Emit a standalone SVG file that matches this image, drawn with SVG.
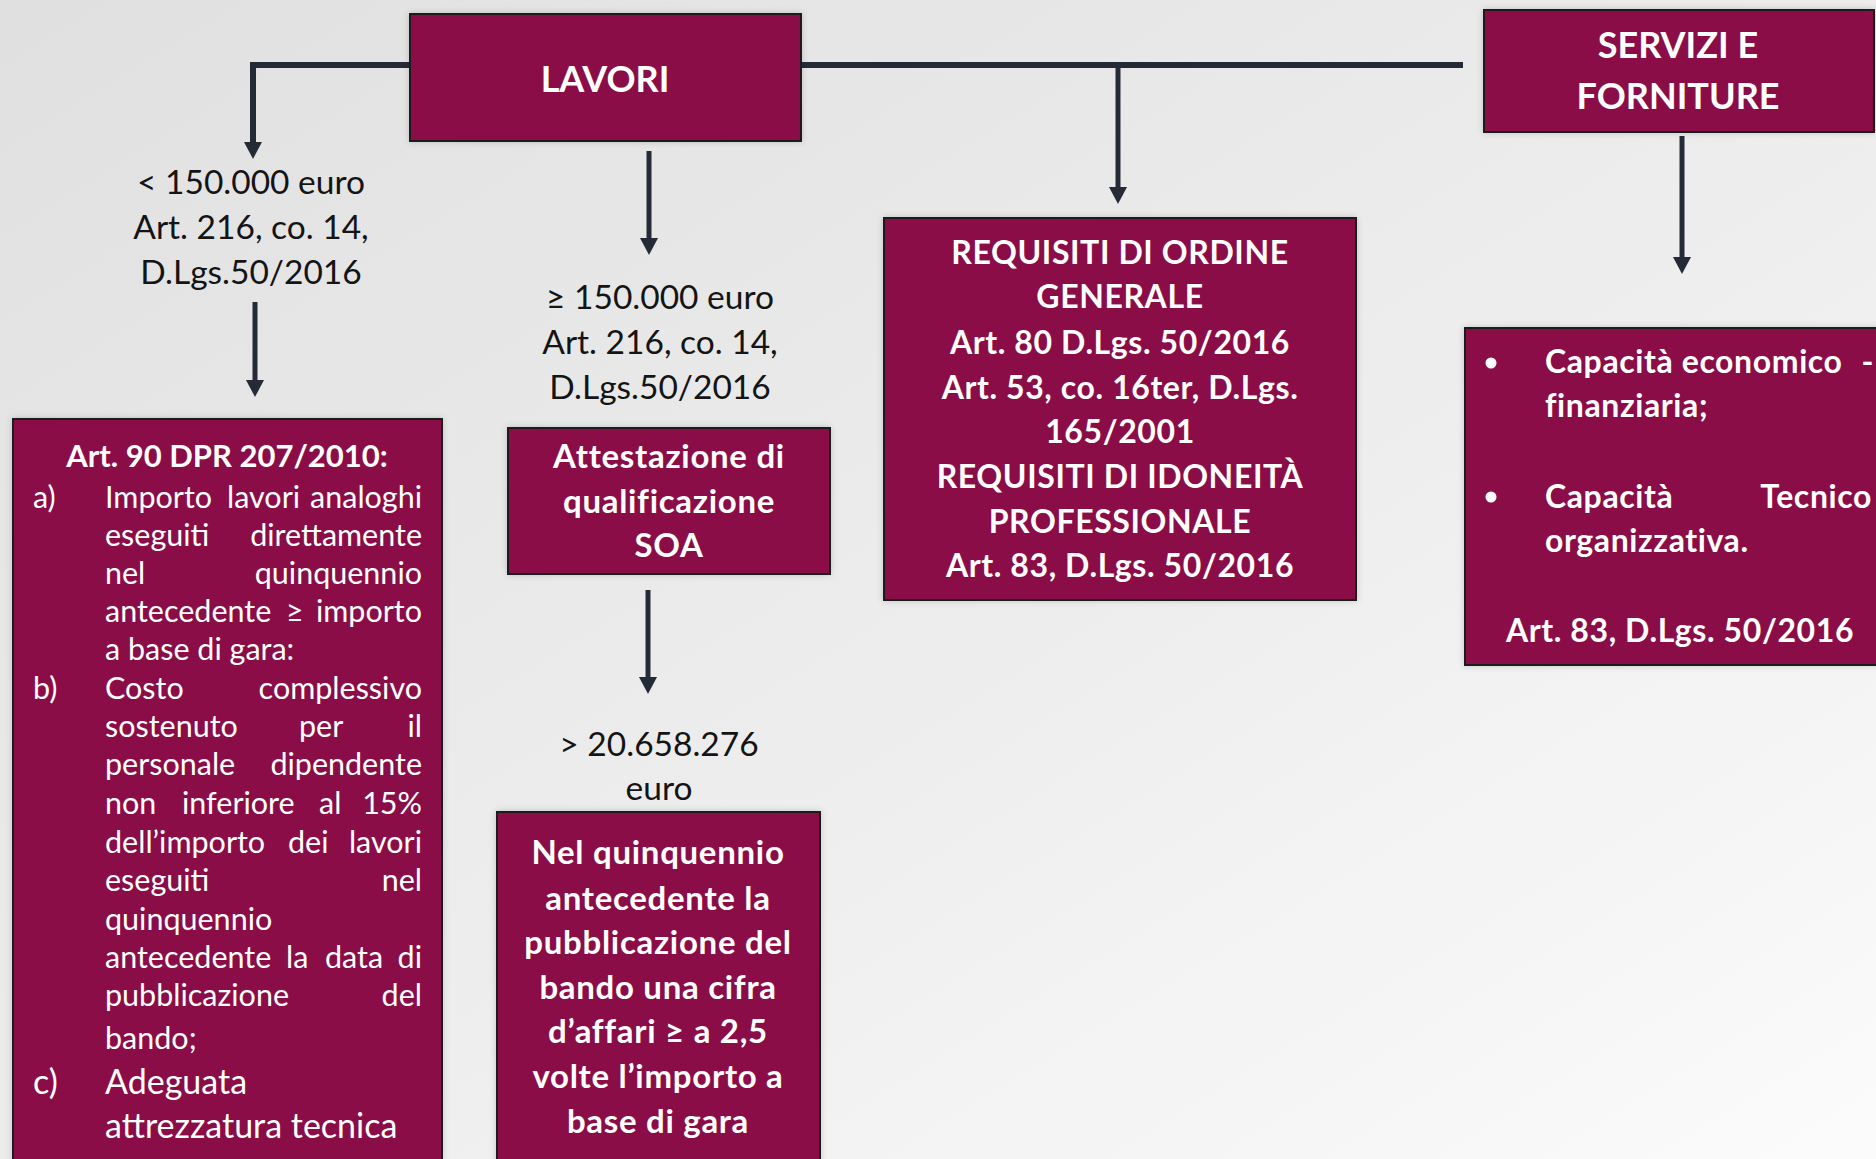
<svg xmlns="http://www.w3.org/2000/svg" width="1876" height="1159" viewBox="0 0 1876 1159">
<defs>
  <linearGradient id="bg" x1="0" y1="0" x2="1" y2="1">
    <stop offset="0" stop-color="#e0e0e0"/>
    <stop offset="0.5" stop-color="#ececec"/>
    <stop offset="1" stop-color="#fbfbfb"/>
  </linearGradient>
  <marker id="arrow" viewBox="0 0 18 18" markerWidth="18" markerHeight="18" refX="0" refY="9" orient="auto" markerUnits="userSpaceOnUse">
    <path d="M0,0 L17,9 L0,18 z" fill="#252b36"/>
  </marker>
  <filter id="sh" x="-5%" y="-5%" width="110%" height="110%">
    <feDropShadow dx="0" dy="0" stdDeviation="3" flood-color="#000" flood-opacity="0.18"/>
  </filter>
</defs>
<style>
  .box { fill: #8a0a46; stroke: #1e1e1e; stroke-width: 2; filter: url(#sh); }
  .conn { fill: none; stroke: #252b36; stroke-width: 5; }
  .top { stroke-width: 6; }
  .lbl { font-family: Lato, "Open Sans", "Liberation Sans", sans-serif; font-size: 33.5px; fill: #141414; text-anchor: middle; }
  .wb { font-family: Lato, "Open Sans", "Liberation Sans", sans-serif; font-weight: bold; fill: #ffffff; }
  .w { font-family: Lato, "Open Sans", "Liberation Sans", sans-serif; fill: #ffffff; font-size: 30.5px; }
  .c { text-anchor: middle; }
  .e { text-anchor: end; }
  .t31 { font-size: 31px; }
  .b31 { font-size: 32px; letter-spacing: 0.6px; }
  .b32 { font-size: 33px; letter-spacing: 0.7px; }
  .b36 { font-size: 36px; }
  .big { font-size: 34px; }
</style>
<rect x="0" y="0" width="1876" height="1159" fill="url(#bg)"/>

<g id="connectors">
  <path class="conn top" d="M410,65 H253 V142" marker-end="url(#arrow)"/>
  <path class="conn top" d="M801,65 H1463"/>
  <path class="conn" d="M1118,65 V187" marker-end="url(#arrow)"/>
  <path class="conn" d="M255,302 V380" marker-end="url(#arrow)"/>
  <path class="conn" d="M649,151 V238" marker-end="url(#arrow)"/>
  <path class="conn" d="M648,590 V677" marker-end="url(#arrow)"/>
  <path class="conn" d="M1682,136 V257" marker-end="url(#arrow)"/>
</g>

<g id="lavori">
  <rect class="box" x="410" y="14" width="391" height="127"/>
  <text class="wb b36 c" x="605" y="92">LAVORI</text>
</g>

<g id="servizi">
  <rect class="box" x="1484" y="10" width="390" height="122"/>
  <text class="wb b36 c" x="1678" y="58">SERVIZI E</text>
  <text class="wb b36 c" x="1678" y="109">FORNITURE</text>
</g>

<g id="label-lt150">
  <text class="lbl" x="251" y="194">&lt; 150.000 euro</text>
  <text class="lbl" x="251" y="239">Art. 216, co. 14,</text>
  <text class="lbl" x="251" y="284">D.Lgs.50/2016</text>
</g>

<g id="label-ge150">
  <text class="lbl" x="660" y="309">≥ 150.000 euro</text>
  <text class="lbl" x="660" y="354">Art. 216, co. 14,</text>
  <text class="lbl" x="660" y="399">D.Lgs.50/2016</text>
</g>

<g id="label-gt20m">
  <text class="lbl" x="659" y="756">&gt; 20.658.276</text>
  <text class="lbl" x="659" y="800">euro</text>
</g>

<g id="art90">
  <rect class="box" x="13" y="419" width="429" height="760"/>
  <text class="wb t31 c" x="227" y="467">Art. 90 DPR 207/2010:</text>
  <text class="w" x="33" y="508">a)</text>
  <text class="w" x="105" y="508">Importo</text>
  <text class="w" x="227" y="508">lavori</text>
  <text class="w e" x="422" y="508">analoghi</text>
  <text class="w" x="105" y="546">eseguiti</text>
  <text class="w e" x="422" y="546">direttamente</text>
  <text class="w" x="105" y="584">nel</text>
  <text class="w e" x="422" y="584">quinquennio</text>
  <text class="w" x="105" y="622">antecedente</text>
  <text class="w" x="286" y="622">≥</text>
  <text class="w e" x="422" y="622">importo</text>
  <text class="w" x="105" y="660">a base di gara:</text>
  <text class="w" x="33" y="699">b)</text>
  <text class="w" x="105" y="699">Costo</text>
  <text class="w e" x="422" y="699">complessivo</text>
  <text class="w" x="105" y="737">sostenuto</text>
  <text class="w" x="299" y="737">per</text>
  <text class="w e" x="422" y="737">il</text>
  <text class="w" x="105" y="775">personale</text>
  <text class="w e" x="422" y="775">dipendente</text>
  <text class="w" x="105" y="814">non</text>
  <text class="w" x="182" y="814">inferiore</text>
  <text class="w" x="319" y="814">al</text>
  <text class="w e" x="422" y="814">15%</text>
  <text class="w" x="105" y="853">dell’importo</text>
  <text class="w" x="288" y="853">dei</text>
  <text class="w e" x="422" y="853">lavori</text>
  <text class="w" x="105" y="891">eseguiti</text>
  <text class="w e" x="422" y="891">nel</text>
  <text class="w" x="105" y="930">quinquennio</text>
  <text class="w" x="105" y="968">antecedente</text>
  <text class="w" x="286" y="968">la</text>
  <text class="w" x="325" y="968">data</text>
  <text class="w e" x="422" y="968">di</text>
  <text class="w" x="105" y="1006">pubblicazione</text>
  <text class="w e" x="422" y="1006">del</text>
  <text class="w" x="105" y="1049">bando;</text>
  <text class="w big" x="33" y="1094">c)</text>
  <text class="w big" x="105" y="1094">Adeguata</text>
  <text class="w big" x="105" y="1138">attrezzatura tecnica</text>
</g>

<g id="soa">
  <rect class="box" x="508" y="428" width="322" height="146"/>
  <text class="wb b32 c" x="669" y="468">Attestazione di</text>
  <text class="wb b32 c" x="669" y="513">qualificazione</text>
  <text class="wb b32 c" x="669" y="557">SOA</text>
</g>

<g id="cifra-affari">
  <rect class="box" x="497" y="812" width="323" height="370"/>
  <text class="wb b32 c" x="658" y="864">Nel quinquennio</text>
  <text class="wb b32 c" x="658" y="910">antecedente la</text>
  <text class="wb b32 c" x="658" y="954">pubblicazione del</text>
  <text class="wb b32 c" x="658" y="999">bando una cifra</text>
  <text class="wb b32 c" x="658" y="1043">d’affari ≥ a 2,5</text>
  <text class="wb b32 c" x="658" y="1088">volte l’importo a</text>
  <text class="wb b32 c" x="658" y="1133">base di gara</text>
</g>

<g id="requisiti">
  <rect class="box" x="884" y="218" width="472" height="382"/>
  <text class="wb b31 c" x="1120" y="264">REQUISITI DI ORDINE</text>
  <text class="wb b31 c" x="1120" y="308">GENERALE</text>
  <text class="wb b31 c" x="1120" y="354">Art. 80 D.Lgs. 50/2016</text>
  <text class="wb b31 c" x="1120" y="399">Art. 53, co. 16ter, D.Lgs.</text>
  <text class="wb b31 c" x="1120" y="443">165/2001</text>
  <text class="wb b31 c" x="1120" y="488">REQUISITI DI IDONEITÀ</text>
  <text class="wb b31 c" x="1120" y="533">PROFESSIONALE</text>
  <text class="wb b31 c" x="1120" y="577">Art. 83, D.Lgs. 50/2016</text>
</g>

<g id="capacita">
  <rect class="box" x="1465" y="328" width="430" height="337"/>
  <circle cx="1491" cy="363" r="5.5" fill="#ffffff"/>
  <text class="wb b31" x="1545" y="373">Capacità economico</text>
  <text class="wb b31 e" x="1874" y="373">-</text>
  <text class="wb b31" x="1545" y="417">finanziaria;</text>
  <circle cx="1491" cy="497" r="5.5" fill="#ffffff"/>
  <text class="wb b31" x="1545" y="508">Capacità</text>
  <text class="wb b31 e" x="1872" y="508">Tecnico</text>
  <text class="wb b31" x="1545" y="552">organizzativa.</text>
  <text class="wb b31 c" x="1680" y="642">Art. 83, D.Lgs. 50/2016</text>
</g>
</svg>
